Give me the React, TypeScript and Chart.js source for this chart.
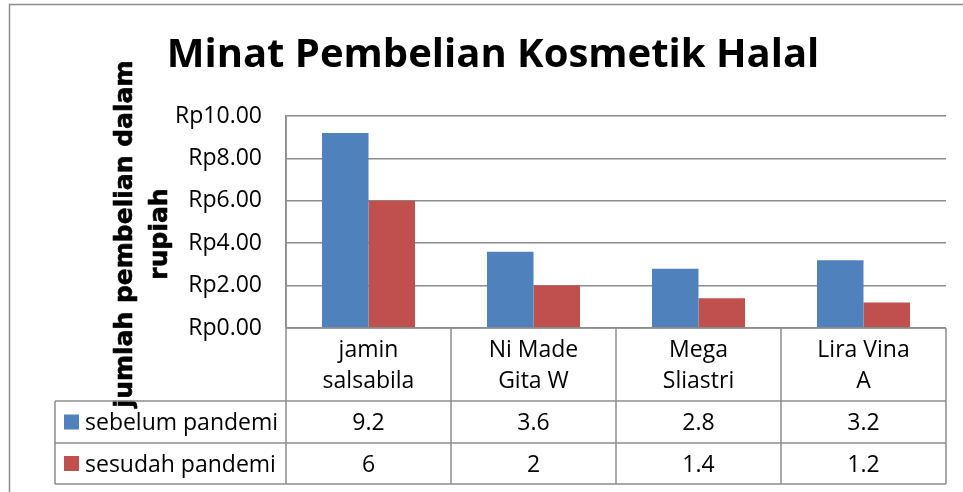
import React, { useEffect, useRef } from "react";
import { Chart, registerables } from "chart.js";

Chart.register(...registerables);

const chartTitle = "Minat Pembelian Kosmetik Halal";
const yTitleLines = ["jumlah pembelian dalam", "rupiah"];
const categories = [
  ["jamin", "salsabila"],
  ["Ni Made", "Gita W"],
  ["Mega", "Sliastri"],
  ["Lira Vina", "A"],
];
const seriesNames = ["sebelum pandemi", "sesudah pandemi"];
const sebelumPandemi = [9.2, 3.6, 2.8, 3.2];
const sesudahPandemi = [6, 2, 1.4, 1.2];
const seriesColors = ["#4F81BD", "#C0504D"];
const yMin = 0;
const yMax = 10;
const yStep = 2;

const lineColor = "#8c8c8c";
const textFont = "'Open Sans', 'Noto Sans', sans-serif";

const tablePlugin = {
  id: "excelTable",
  afterDraw(chart: any) {
    const { ctx, chartArea } = chart;
    const { left, right, top, bottom } = chartArea;
    const xs = chart.scales.x;
    const n = categories.length;
    const colW = (right - left) / n;
    const rows = [bottom, bottom + 73, bottom + 115, bottom + 156];
    const legendLeft = 55;
    const seriesData = [sebelumPandemi, sesudahPandemi];

    ctx.save();
    // outer chart border
    ctx.strokeStyle = lineColor;
    ctx.lineWidth = 1.5;
    ctx.strokeRect(9.5, 4.5, chart.width + 20, chart.height + 20);

    // title
    ctx.fillStyle = "#000";
    ctx.font = `bold 40px ${textFont}`;
    ctx.textAlign = "center";
    ctx.textBaseline = "alphabetic";
    ctx.fillText(chartTitle, 493, 67);

    // y-axis title (rotated)
    ctx.save();
    ctx.translate(0, 234);
    ctx.rotate(-Math.PI / 2);
    ctx.font = `bold 25px 'DejaVu Sans', sans-serif`;
    ctx.textAlign = "center";
    ctx.strokeStyle = "#000";
    ctx.lineWidth = 0.6;
    ctx.lineJoin = "round";
    ctx.fillText(yTitleLines[0], 0, 132);
    ctx.strokeText(yTitleLines[0], 0, 132);
    ctx.fillText(yTitleLines[1], 0, 167);
    ctx.strokeText(yTitleLines[1], 0, 167);
    ctx.restore();

    // table lines
    const seg = (x1: number, y1: number, x2: number, y2: number) => {
      ctx.beginPath();
      ctx.moveTo(x1, y1);
      ctx.lineTo(x2, y2);
      ctx.stroke();
    };
    ctx.strokeStyle = lineColor;
    ctx.lineWidth = 1.5;
    seg(left, rows[0], right, rows[0]);
    for (let r = 1; r < rows.length; r++) seg(legendLeft, rows[r], right, rows[r]);
    seg(legendLeft, rows[1], legendLeft, rows[3]);
    seg(left, top, left, rows[3]);
    for (let i = 1; i <= n; i++) {
      const x = left + colW * i;
      seg(x, rows[0], x, rows[3]);
    }

    // category labels
    ctx.fillStyle = "#000";
    ctx.font = `23px ${textFont}`;
    ctx.textAlign = "center";
    categories.forEach((lines, i) => {
      const cx = xs.getPixelForValue(i);
      lines.forEach((t, k) => ctx.fillText(t, cx, rows[0] + 29 + k * 31));
    });

    // values + legend
    seriesData.forEach((data, s) => {
      const base = rows[s + 1] + 29;
      const mid = (rows[s + 1] + rows[s + 2]) / 2;
      ctx.textAlign = "center";
      ctx.fillStyle = "#000";
      data.forEach((v, i) => {
        ctx.fillText(String(v), xs.getPixelForValue(i), base);
      });
      ctx.fillStyle = seriesColors[s];
      ctx.fillRect(64, mid - 7.5, 15, 15);
      ctx.fillStyle = "#000";
      ctx.textAlign = "left";
      ctx.fillText(seriesNames[s], 85, base);
    });
    ctx.restore();
  },
};

export default function App() {
  const canvasRef = useRef<HTMLCanvasElement | null>(null);

  useEffect(() => {
    document.body.style.margin = "0";
    const canvas = canvasRef.current;
    if (!canvas) return;
    const chart = new Chart(canvas, {
      type: "bar",
      data: {
        labels: categories,
        datasets: [
          {
            label: seriesNames[0],
            data: sebelumPandemi,
            backgroundColor: seriesColors[0],
            borderWidth: 0,
            categoryPercentage: 0.564,
            barPercentage: 1,
          },
          {
            label: seriesNames[1],
            data: sesudahPandemi,
            backgroundColor: seriesColors[1],
            borderWidth: 0,
            categoryPercentage: 0.564,
            barPercentage: 1,
          },
        ],
      },
      options: {
        responsive: false,
        animation: false,
        layout: { padding: { left: 0, top: 116, right: 17, bottom: 164 } },
        plugins: {
          legend: { display: false },
          title: { display: false },
          tooltip: { enabled: false },
        },
        scales: {
          x: { display: false },
          y: {
            min: yMin,
            max: yMax,
            afterFit: (scale: any) => {
              scale.width = 286;
            },
            ticks: {
              stepSize: yStep,
              padding: 24,
              color: "#000",
              font: { family: textFont, size: 23 },
              callback: (v: any) => "Rp" + Number(v).toFixed(2),
            },
            grid: { color: lineColor, lineWidth: 1.5, drawTicks: false },
            border: { display: true, color: lineColor, width: 1.5 },
          },
        },
      },
      plugins: [tablePlugin],
    });
    return () => chart.destroy();
  }, []);

  return (
    <div style={{ position: "absolute", left: 0, top: 0, width: 963, height: 492, background: "#fff" }}>
      <canvas ref={canvasRef} width={963} height={492} style={{ width: 963, height: 492, display: "block" }} />
    </div>
  );
}
